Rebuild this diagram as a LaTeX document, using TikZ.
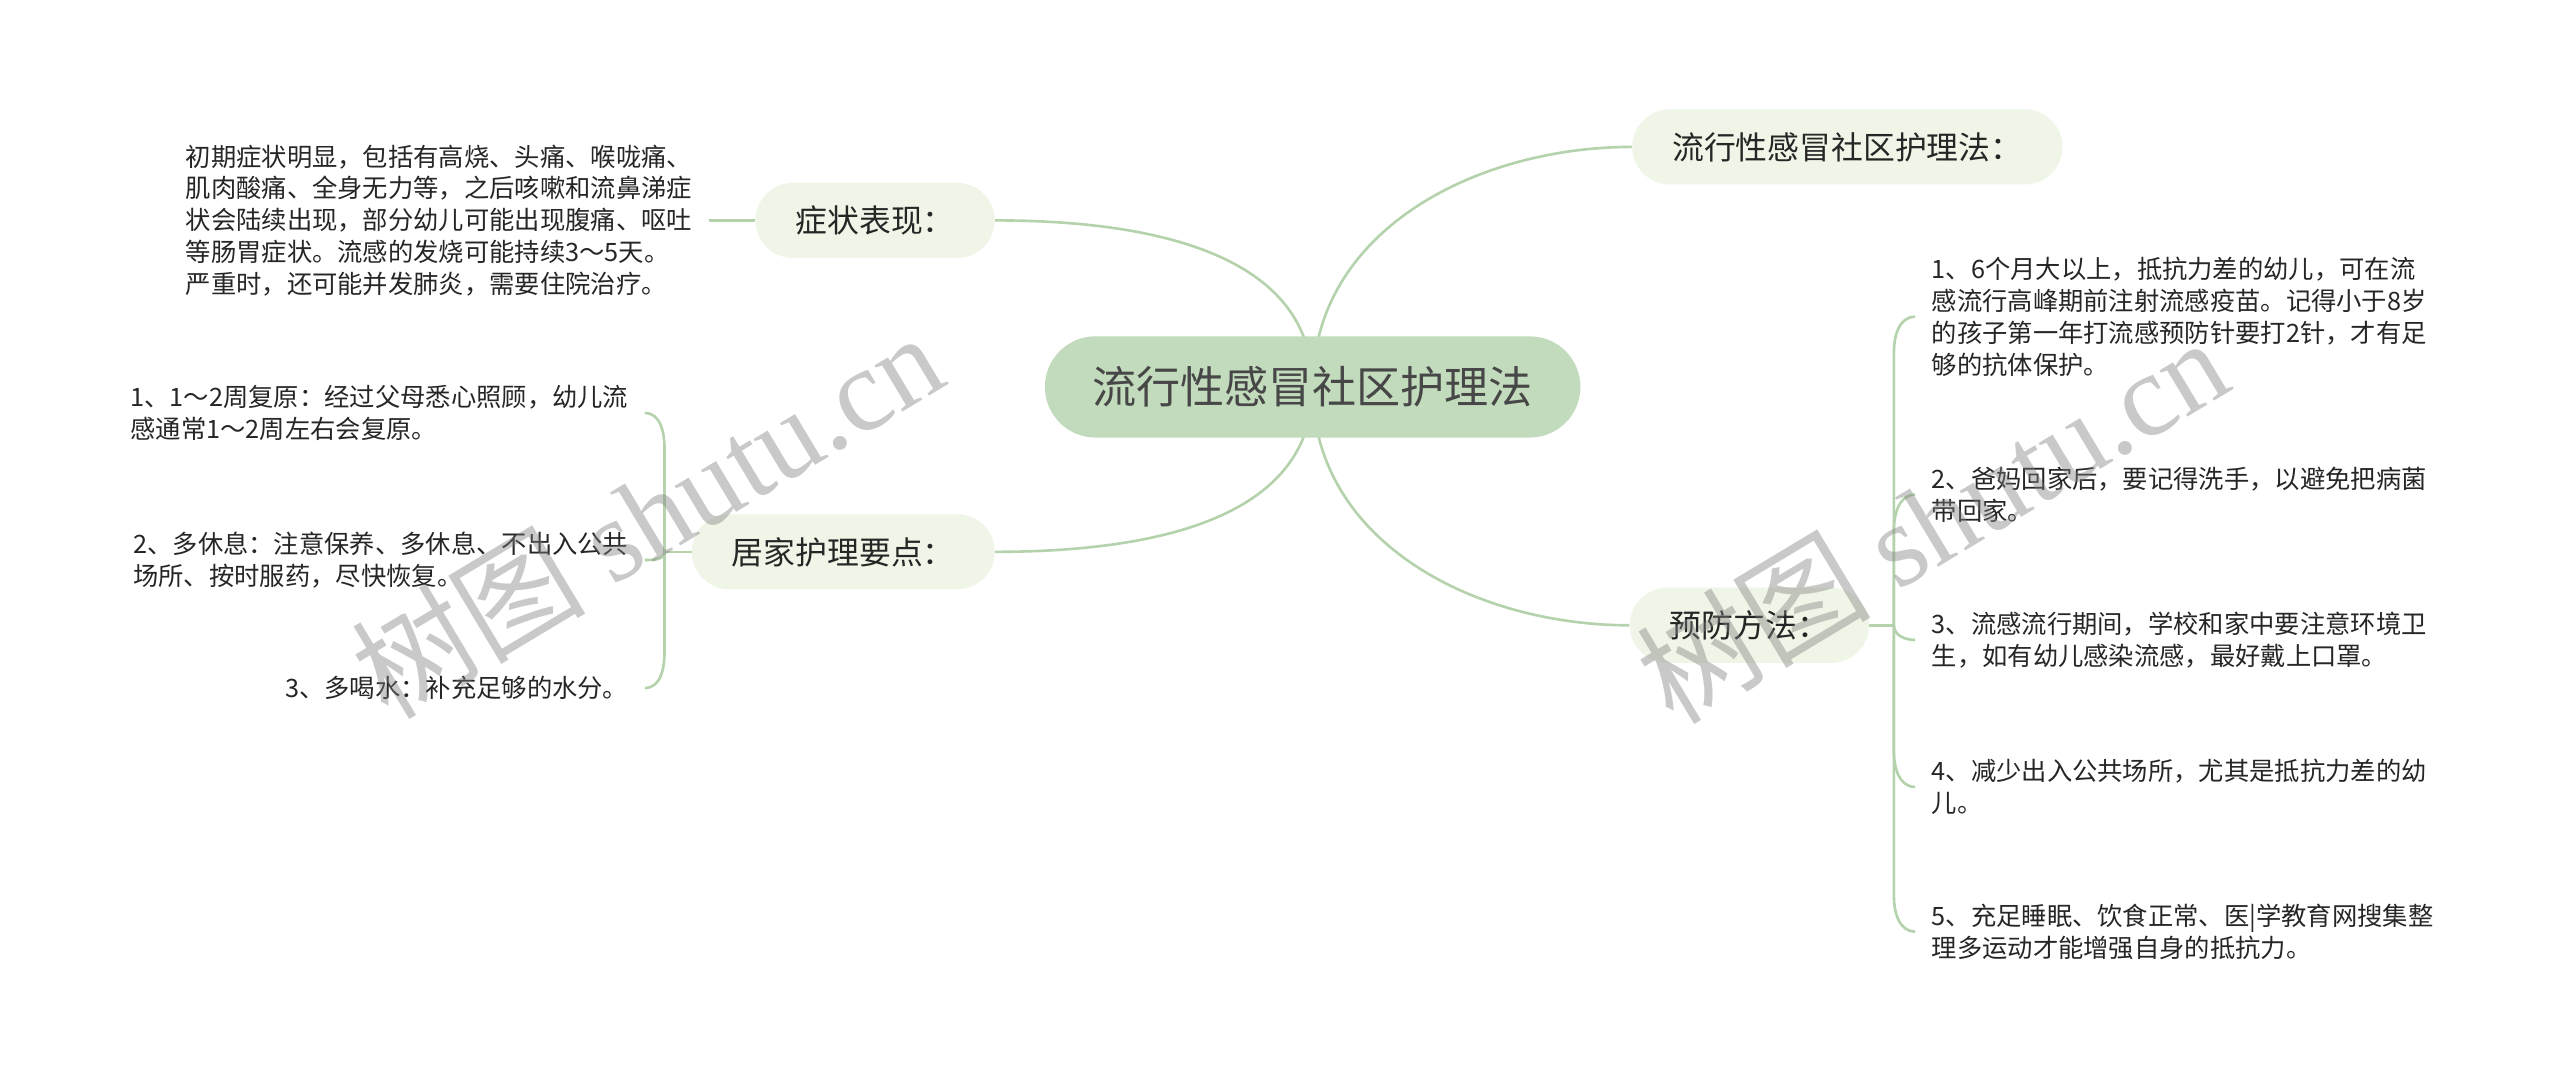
\documentclass[tikz,border=0pt]{standalone}
\usepackage{fontspec}
\setmainfont{Noto Sans CJK SC}
\newfontfamily\wmlatin{Liberation Serif}
\usetikzlibrary{calc,backgrounds}

\definecolor{rootfill}{HTML}{C2DBBC}
\definecolor{branchfill}{HTML}{EFF6E7}
\definecolor{linkcol}{HTML}{B4D3AC}
\definecolor{inkdark}{HTML}{262626}

\tikzset{
  root/.style={fill=rootfill, rounded corners=31pt, minimum height=62pt, inner xsep=29pt, text=inkdark!85, font=\fontsize{27pt}{32pt}\selectfont},
  branch/.style={fill=branchfill, rounded corners=23pt, minimum height=46pt, inner xsep=24.5pt, text=inkdark, font=\fontsize{19.5pt}{23pt}\selectfont},
  leaf/.style={align=left, inner xsep=10pt, inner ysep=2pt, text=inkdark, font=\fontsize{15.5pt}{19.5pt}\selectfont},
  link/.style={draw=linkcol, line width=1.6pt},
  wmark/.style={text=gray, text opacity=0.42, rotate=31, font=\fontsize{72pt}{80pt}\selectfont}
}

\begin{document}
\begin{tikzpicture}[x=1pt, y=1pt]
    \useasboundingbox (0,0) rectangle (1568,666);

    % Root and the four branches
    \node[root] (c) at (804,429) {流行性感冒社区护理法};
    \node[branch] (b1) at (536,531) {症状表现：};
    \node[branch] (b2) at (516.5,328) {居家护理要点：};
    \node[branch] (b3) at (1131.5,576) {流行性感冒社区护理法：};
    \node[branch] (b4) at (1071.5,283) {预防方法：};

    % Text of the symptoms branch
    \node[leaf, anchor=east] (s0) at (434,531) {初期症状明显，包括有高烧、头痛、喉咙痛、\\
肌肉酸痛、全身无力等，之后咳嗽和流鼻涕症\\
状会陆续出现，部分幼儿可能出现腹痛、呕吐\\
等肠胃症状。流感的发烧可能持续3～5天。\\
严重时，还可能并发肺炎，需要住院治疗。};

    % Home care items
    \node[leaf, anchor=east] (l1) at (395,413) {1、1～2周复原：经过父母悉心照顾，幼儿流\\
感通常1～2周左右会复原。};
    \node[leaf, anchor=east] (l2) at (395,323) {2、多休息：注意保养、多休息、不出入公共\\
场所、按时服药，尽快恢复。};
    \node[leaf, anchor=east] (l3) at (395,244.6) {3、多喝水：补充足够的水分。};

    % Prevention items
    \node[leaf, anchor=west] (r1) at (1173,472) {1、6个月大以上，抵抗力差的幼儿，可在流\\
感流行高峰期前注射流感疫苗。记得小于8岁\\
的孩子第一年打流感预防针要打2针，才有足\\
够的抗体保护。};
    \node[leaf, anchor=west] (r2) at (1173,363) {2、爸妈回家后，要记得洗手，以避免把病菌\\
带回家。};
    \node[leaf, anchor=west] (r3) at (1173,274) {3、流感流行期间，学校和家中要注意环境卫\\
生，如有幼儿感染流感，最好戴上口罩。};
    \node[leaf, anchor=west] (r4) at (1173,184) {4、减少出入公共场所，尤其是抵抗力差的幼\\
儿。};
    \node[leaf, anchor=west] (r5) at (1173,95.4) {5、充足睡眠、饮食正常、医|学教育网搜集整\\
理多运动才能增强自身的抵抗力。};

    % Bracket junctions
    \coordinate (jL) at (407,328);
    \coordinate (jR) at (1160,283);

    \begin{pgfonlayer}{background}
        \fill[white] (0,0) rectangle (1568,666);

        % Curves from the root
        \draw[link] (c.center) to[out=90,in=0] (b1.east);
        \draw[link] (c.center) to[out=-90,in=0] (b2.east);
        \draw[link] (c.center) to[out=90,in=180] (b3.west);
        \draw[link] (c.center) to[out=-90,in=180] (b4.west);

        % Short stubs
        \draw[link] (b1.west) -- (s0.east);
        \draw[link] (b2.west) -- (jL);
        \draw[link] (b4.east) -- (jR);

        % Left bracket
        \draw[link] (jL) -- ($(jL |- l1.east)+(0,-22)$) to[out=90,in=0] (l1.east);
        \draw[link] (jL) to[out=-90,in=0] (l2.east);
        \draw[link] (jL) -- ($(jL |- l3.east)+(0,22)$) to[out=-90,in=0] (l3.east);

        % Right bracket
        \foreach \n in {r1,r2}
            \draw[link] (jR) -- ($(jR |- \n.west)+(0,-22)$) to[out=90,in=180] (\n.west);
        \draw[link] (jR) to[out=-90,in=180] (r3.west);
        \foreach \n in {r4,r5}
            \draw[link] (jR) -- ($(jR |- \n.west)+(0,22)$) to[out=-90,in=180] (\n.west);
    \end{pgfonlayer}

    % Watermarks
    \node[wmark] (wmL) at (396,351) {树图 {\wmlatin shutu.cn}};
    \node[wmark] (wmR) at (1183,348) {树图 {\wmlatin shutu.cn}};
\end{tikzpicture}
\end{document}
